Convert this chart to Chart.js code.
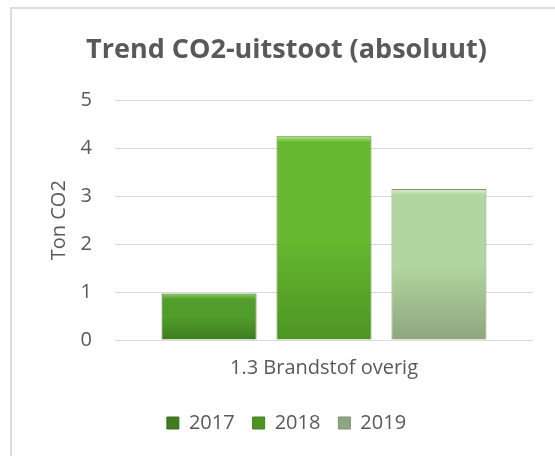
<!DOCTYPE html>
<html>
<head>
<meta charset="utf-8">
<script src="https://cdn.jsdelivr.net/npm/chart.js@4"></script>
<style>
  html, body { margin: 0; padding: 0; background: #fff; overflow: hidden; }
  #frame { position: absolute; left: 10px; top: 7px; width: 700px; height: 600px;
           border-left: 2px solid #dcdcdc; border-top: 2px solid #dcdcdc; }
  #wrap { position: absolute; left: 0; top: 0; width: 555px; height: 456px; }
</style>
</head>
<body>
<div id="frame"></div>
<div id="wrap"><canvas id="co2" width="555" height="456"></canvas></div>
<script>
var categories = ['1.3 Brandstof overig'];
var years = ['2017', '2018', '2019'];
var values2017 = [0.97];
var values2018 = [4.25];
var values2019 = [3.15];
var yTicks = [0, 1, 2, 3, 4, 5];

// top highlight, main, bottom shade, edge
var shades = {
  '2017': ['#86cc5c', '#529c2c', '#3e7c1e', '#3b6f1d'],
  '2018': ['#a8e27a', '#66b92f', '#4d9422', '#46801f'],
  '2019': ['#dcefd2', '#b2d69f', '#8ea67f', '#7c9470']
};

function barFill(year) {
  var s = shades[year];
  return function(ctx) {
    var chart = ctx.chart;
    if (ctx.type !== 'data' || !chart.chartArea) return s[1];
    var y = chart.scales.y;
    var top = y.getPixelForValue(ctx.raw);
    var bottom = y.getPixelForValue(0);
    var h = Math.max(bottom - top, 1);
    var g = chart.ctx.createLinearGradient(0, top, 0, bottom);
    var b = Math.min(6 / h, 0.4);
    g.addColorStop(0, s[0]);
    g.addColorStop(b, s[1]);
    g.addColorStop(0.5, s[1]);
    g.addColorStop(1, s[2]);
    return g;
  };
}

var fontFam = "'Open Sans', 'Liberation Sans', sans-serif";
var grey = '#595959';

new Chart(document.getElementById('co2'), {
  type: 'bar',
  data: {
    labels: categories,
    datasets: [
      { label: years[0], data: values2017, backgroundColor: barFill('2017'), borderColor: shades['2017'][3], borderWidth: 1 },
      { label: years[1], data: values2018, backgroundColor: barFill('2018'), borderColor: shades['2018'][3], borderWidth: 1 },
      { label: years[2], data: values2019, backgroundColor: barFill('2019'), borderColor: shades['2019'][3], borderWidth: 1 }
    ]
  },
  options: {
    responsive: false,
    animation: false,
    categoryPercentage: 0.825,
    barPercentage: 0.826,
    layout: { padding: { left: 40, right: 22, top: 20, bottom: 13 } },
    plugins: {
      title: {
        display: true,
        text: 'Trend CO2-uitstoot (absoluut)',
        color: grey,
        font: { family: fontFam, size: 27, weight: 'bold' },
        padding: { top: 14, bottom: 34 }
      },
      legend: {
        position: 'bottom',
        labels: {
          color: grey,
          font: { family: fontFam, size: 20 },
          boxWidth: 12,
          boxHeight: 12,
          padding: 18
        }
      },
      tooltip: { enabled: false }
    },
    scales: {
      x: {
        grid: { display: false, drawTicks: false },
        border: { display: false },
        ticks: { color: grey, font: { family: fontFam, size: 20 }, padding: 16 },
        afterFit: function(axis) { axis.height = 55; }
      },
      y: {
        min: 0,
        max: 5,
        afterBuildTicks: function(axis) {
          axis.ticks = yTicks.map(function(v) { return { value: v }; });
        },
        afterFit: function(axis) { axis.width = 75; },
        grid: { color: '#d9d9d9', lineWidth: 1, drawTicks: false },
        border: { display: false },
        ticks: { color: grey, font: { family: fontFam, size: 20 }, padding: 23 },
        title: {
          display: true,
          text: 'Ton CO2',
          color: grey,
          font: { family: fontFam, size: 20 },
          padding: { top: 7, bottom: 0 }
        }
      }
    }
  }
});
</script>
</body>
</html>
